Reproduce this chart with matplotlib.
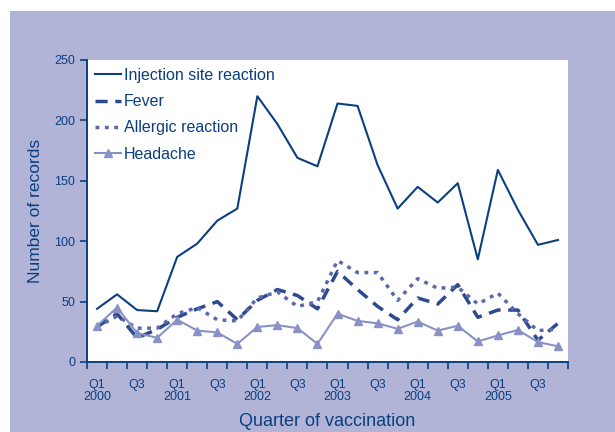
import numpy as np
import matplotlib.pyplot as plt
from matplotlib.patches import Rectangle

plt.rcParams['font.family'] = ['Liberation Sans', 'DejaVu Sans']

# quarterly counts, Q1 2000 .. Q4 2005
years = ["2000", "2001", "2002", "2003", "2004", "2005"]
injection = [44, 56, 43, 42, 87, 98, 117, 127, 220, 197, 169, 162,
             214, 212, 163, 127, 145, 132, 148, 85, 159, 126, 97, 101]
fever = [29, 40, 20, 27, 37, 44, 50, 35, 51, 60, 55, 44,
         75, 60, 46, 35, 53, 48, 64, 37, 43, 43, 18, 32]
allergic = [29, 38, 28, 28, 40, 45, 35, 34, 53, 58, 46, 50,
            84, 74, 74, 51, 69, 61, 62, 48, 57, 40, 26, 27]
headache = [30, 45, 24, 20, 35, 26, 24.5, 15, 29, 30.5, 28, 15,
            40, 34, 32, 27.5, 33.5, 26, 30, 17, 22, 26.5, 16.5, 13]

navy = "#0b3f80"
c_fever = "#2c4a8e"
c_allergic = "#5c68ad"
c_head = "#8a91c6"
bg = "#b1b4d6"

fig = plt.figure(figsize=(6.15, 4.32), dpi=100)
fig.patches.append(Rectangle((10 / 615, 0), 1, 1 - 11 / 432, transform=fig.transFigure,
                             facecolor=bg, edgecolor="none", zorder=-10))
ax = fig.add_axes([87 / 615, 70 / 432, 481 / 615, 302 / 432])
ax.set_facecolor("white")

x = np.arange(len(injection)) + 0.5
ax.plot(x, injection, color=navy, lw=1.5, label="Injection site reaction")
ax.plot(x, fever, color=c_fever, lw=2.5, dashes=(3.5, 2.2), label="Fever")
ax.plot(x, allergic, color=c_allergic, lw=2.5, dashes=(1.1, 1.6), label="Allergic reaction")
ax.plot(x, headache, color=c_head, lw=1.5, marker="^", ms=6, label="Headache")

ax.set_xlim(0, 24)
ax.set_ylim(0, 250)
ax.set_yticks(range(0, 251, 50))
ax.set_xticks(np.arange(0, 25), minor=True)
labels = []
pos = []
for i, yr in enumerate(years):
    pos += [i * 4 + 0.5, i * 4 + 2.5]
    labels += ["Q1\n" + yr, "Q3"]
ax.set_xticks(pos)
ax.set_xticklabels(labels, va="top", linespacing=1.05)
ax.tick_params(axis="x", which="major", length=0, pad=12, labelsize=9, colors=navy)
ax.tick_params(axis="x", which="minor", length=5, width=1.2, color=navy, direction="out")
ax.tick_params(axis="y", length=5, width=1.2, color=navy, labelcolor=navy, labelsize=9)

for s in ["top", "right"]:
    ax.spines[s].set_visible(False)
for s in ["left", "bottom"]:
    ax.spines[s].set_color(navy)
    ax.spines[s].set_linewidth(1.4)

ax.set_ylabel("Number of records", color=navy, fontsize=12.5, labelpad=8)
ax.set_xlabel("Quarter of vaccination", color=navy, fontsize=13, labelpad=7)

leg = ax.legend(loc="upper left", frameon=False, fontsize=11.5, handlelength=1.6,
                handletextpad=0.2, labelspacing=0.7, borderaxespad=0.1,
                bbox_to_anchor=(0.0, 1.0))
for t in leg.get_texts():
    t.set_color(navy)

fig.savefig("out.png", dpi=100)
